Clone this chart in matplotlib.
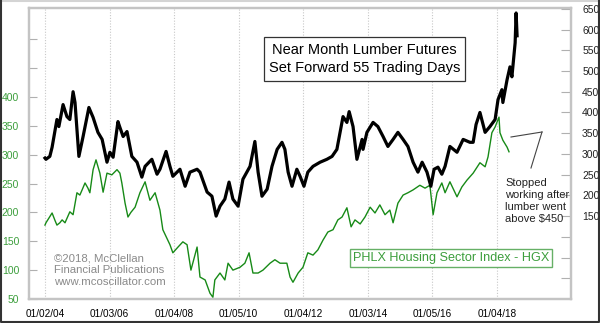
import numpy as np
import matplotlib
matplotlib.use('Agg')
import matplotlib.pyplot as plt
from matplotlib.lines import Line2D

plt.rcParams['font.family'] = ['Liberation Sans', 'DejaVu Sans']

# lumber near month futures, shifted forward 55 trading days (right axis)
lumber_t = [2004.00, 2004.03, 2004.15, 2004.22, 2004.37, 2004.43, 2004.56, 2004.68, 2004.77, 2004.87,
            2004.93, 2005.05, 2005.18, 2005.36, 2005.49, 2005.64, 2005.77, 2005.92, 2006.01, 2006.11,
            2006.26, 2006.32, 2006.42, 2006.54, 2006.69, 2006.85, 2007.00, 2007.10, 2007.31, 2007.47,
            2007.56, 2007.75, 2007.87, 2007.96, 2008.18, 2008.34, 2008.49, 2008.71, 2008.80, 2009.02,
            2009.17, 2009.30, 2009.42, 2009.57, 2009.70, 2009.82, 2009.98, 2010.13, 2010.35, 2010.50,
            2010.60, 2010.72, 2010.88, 2011.03, 2011.19, 2011.34, 2011.43, 2011.53, 2011.65, 2011.80,
            2011.90, 2012.02, 2012.14, 2012.30, 2012.52, 2012.73, 2012.89, 2013.04, 2013.23, 2013.35,
            2013.42, 2013.54, 2013.66, 2013.82, 2013.85, 2013.97, 2014.16, 2014.31, 2014.47, 2014.62,
            2014.78, 2014.93, 2015.09, 2015.24, 2015.40, 2015.55, 2015.68, 2015.83, 2015.95, 2016.05,
            2016.17, 2016.29, 2016.39, 2016.54, 2016.76, 2016.95, 2017.16, 2017.26, 2017.35, 2017.47,
            2017.63, 2017.78, 2017.94, 2018.03, 2018.15, 2018.18, 2018.31, 2018.40, 2018.46, 2018.56,
            2018.59, 2018.62]
lumber = [290, 287, 294, 316, 383, 366, 419, 390, 383, 450,
          424, 294, 342, 412, 388, 352, 335, 280, 304, 292,
          378, 364, 342, 354, 294, 280, 244, 270, 287, 251,
          263, 306, 270, 246, 263, 222, 256, 263, 256, 208,
          198, 150, 174, 191, 232, 191, 174, 239, 270, 330,
          256, 198, 215, 270, 311, 328, 311, 256, 222, 263,
          246, 222, 256, 270, 280, 287, 294, 311, 390, 376,
          402, 366, 287, 335, 311, 352, 376, 366, 342, 318,
          335, 352, 335, 318, 280, 256, 280, 256, 222, 263,
          268, 251, 270, 318, 304, 335, 328, 328, 371, 400,
          352, 366, 383, 431, 455, 424, 479, 510, 486, 568,
          640, 585]

# PHLX Housing Sector Index (left axis)
hgx_t = [2004.00, 2004.03, 2004.12, 2004.22, 2004.31, 2004.37, 2004.46, 2004.53, 2004.62, 2004.77,
         2004.87, 2004.99, 2005.08, 2005.15, 2005.24, 2005.33, 2005.39, 2005.49, 2005.58, 2005.70,
         2005.80, 2005.92, 2006.07, 2006.23, 2006.32, 2006.38, 2006.48, 2006.57, 2006.66, 2006.79,
         2006.94, 2007.10, 2007.25, 2007.41, 2007.56, 2007.65, 2007.87, 2007.96, 2008.12, 2008.27,
         2008.40, 2008.52, 2008.71, 2008.80, 2008.96, 2009.11, 2009.20, 2009.26, 2009.42, 2009.57,
         2009.67, 2009.82, 2010.04, 2010.19, 2010.32, 2010.44, 2010.60, 2010.75, 2010.97, 2011.12,
         2011.28, 2011.49, 2011.59, 2011.68, 2011.84, 2011.99, 2012.14, 2012.30, 2012.45, 2012.61,
         2012.76, 2012.92, 2013.07, 2013.20, 2013.35, 2013.48, 2013.60, 2013.76, 2013.91, 2014.07,
         2014.22, 2014.37, 2014.53, 2014.68, 2014.78, 2014.93, 2015.09, 2015.24, 2015.40, 2015.61,
         2015.77, 2015.92, 2016.02, 2016.14, 2016.29, 2016.39, 2016.54, 2016.76, 2016.91, 2017.07,
         2017.26, 2017.47, 2017.63, 2017.72, 2017.84, 2017.94, 2018.06, 2018.09, 2018.18, 2018.31,
         2018.37]
hgx = [178, 182, 190, 199, 186, 178, 182, 187, 182, 201,
       196, 234, 230, 239, 251, 242, 234, 274, 291, 268,
       235, 268, 265, 274, 268, 251, 216, 192, 200, 209,
       234, 253, 221, 234, 204, 170, 144, 130, 140, 149,
       144, 100, 140, 88, 83, 60, 53, 83, 95, 83,
       112, 100, 105, 112, 130, 95, 95, 100, 112, 118,
       112, 112, 88, 79, 95, 105, 130, 126, 135, 152,
       166, 170, 187, 192, 208, 175, 187, 180, 192, 209,
       199, 213, 196, 204, 182, 216, 230, 234, 239, 247,
       242, 247, 196, 234, 251, 234, 253, 227, 244, 256,
       268, 286, 279, 296, 338, 348, 365, 338, 325, 313,
       305]

tick_pos = [2004, 2006, 2008, 2010, 2012, 2014, 2016, 2018]
tick_labels = ['01/02/04', '01/03/06', '01/04/08', '01/05/10',
               '01/04/12', '01/03/14', '01/05/16', '01/04/18']

green = '#178a17'
green_txt = '#3c9e3c'
frame = '#c4c4c4'

fig = plt.figure(figsize=(6, 3.23), dpi=100)
ax = fig.add_axes([29/600, 24/323, 542/600, 291/323])
ax2 = ax.twinx()

ax.plot(hgx_t, hgx, color=green, lw=1.0)
ax2.plot(lumber_t, lumber, color='black', lw=2.3)

ax.set_xlim(2003.505, 2020.29)
ax.set_ylim(50, 554)
ax2.set_ylim(-50, 652)

ax.set_xticks(tick_pos)
ax.set_xticklabels(tick_labels, fontsize=7.2)
ax.tick_params(axis='x', length=0, pad=7)
ax.xaxis.grid(True, linestyle=(0, (1, 1.5)), color='#c8c8c8', lw=0.8)

left_ticks = np.arange(50, 501, 50)
ax.set_yticks(left_ticks)
ax.set_yticklabels([str(v) if v <= 400 else '' for v in left_ticks])
ax.tick_params(axis='y', direction='in', length=6, color='#b0b0b0', labelcolor=green_txt,
               labelsize=7.5, pad=7)
right_ticks = np.arange(0, 651, 50)
ax2.set_yticks(right_ticks)
ax2.set_yticklabels([str(v) if v >= 150 else '' for v in right_ticks])
ax2.tick_params(axis='y', direction='in', length=7, color='#b0b0b0', labelcolor='#222222',
                labelsize=7.5, pad=8)

for a in (ax, ax2):
    for s in a.spines.values():
        s.set_color(frame)
        s.set_linewidth(1.6)

fig.text(364.5/600, 1 - 59/323, 'Near Month Lumber Futures\nSet Forward 55 Trading Days',
         ha='center', va='center', fontsize=10.5, linespacing=1.45,
         bbox=dict(boxstyle='square,pad=0.35', fc='white', ec='#333333', lw=0.9))

fig.text(451/600, 1 - 258/323, 'PHLX Housing Sector Index - HGX', ha='center', va='center',
         fontsize=9.1, color=green_txt,
         bbox=dict(boxstyle='square,pad=0.2', fc='white', ec='#66b066', lw=1.0))

fig.text(54/600, 1 - 270/323, '\u00a92018, McClellan\nFinancial Publications\nwww.mcoscillator.com',
         ha='left', va='center', fontsize=8.2, color='#8a8a8a', linespacing=1.2)

fig.text(505/600, 1 - 201/323, 'Stopped\nworking after\nlumber went\nabove $450',
         ha='left', va='center', fontsize=8, color='#222222', linespacing=1.25)

# pointer lines from the note to the green line
fig.add_artist(Line2D([511/600, 542/600], [1 - 137/323, 1 - 132/323], color='#444444', lw=0.8))
fig.add_artist(Line2D([542/600, 531/600], [1 - 132/323, 1 - 168/323], color='#444444', lw=0.8))

# outer border of the picture
fig.add_artist(Line2D([0.5/600, 599.5/600], [1 - 1/323, 1 - 1/323], color='#d4d4d4', lw=1.5))
fig.add_artist(Line2D([0.8/600, 0.8/600, 599.2/600, 599.2/600],
                      [1 - 1/323, 0.8/323, 0.8/323, 1 - 1/323], color='#333333', lw=1.5))

fig.savefig('out.png', dpi=100)
